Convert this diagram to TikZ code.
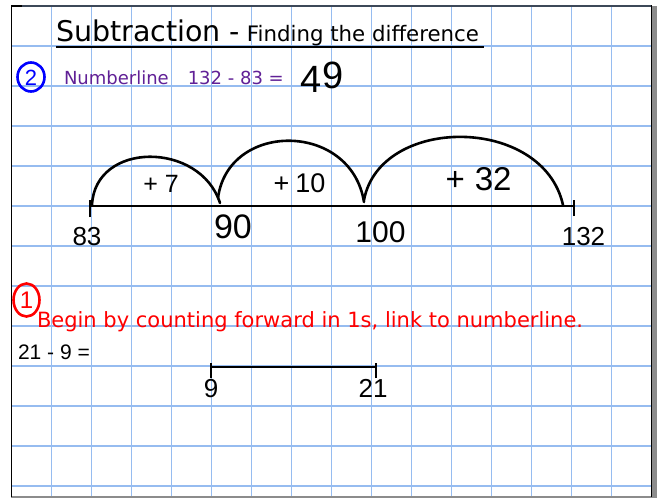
\documentclass[tikz,border=0pt]{standalone}
\usepackage{fontspec}
\setmainfont{Liberation Sans}
\newfontfamily\dejavu{DejaVu Sans}
\definecolor{gridblue}{RGB}{150,188,240}
\definecolor{notepurple}{RGB}{96,32,150}
\definecolor{frameslate}{RGB}{60,72,88}
\definecolor{shadowgray}{RGB}{140,140,140}
\begin{document}
\begin{tikzpicture}[x=1pt,y=-1pt,
  gridv/.style={draw=gridblue,line width=1.7pt},
  gridh/.style={draw=gridblue,line width=2pt},
  txt/.style={inner sep=0pt,outer sep=0pt},
  hand/.style={txt,anchor=base,font=\fontsize{#1}{#1}\selectfont},
  nline/.style={line width=2.2pt,black},
  jump/.style={line width=2.6pt,black,line cap=round},
  ring/.style={line width=2.6pt}]
\useasboundingbox[fill=white] (0,0) rectangle (661,498);
% grid
\foreach \k in {0,...,14} {\draw[gridv] (51.5+40*\k,5.5) -- (51.5+40*\k,497);}
\foreach \k in {0,...,11} {\draw[gridh] (11.5,45.5+40*\k) -- (651.5,45.5+40*\k);}
% frame
\fill[shadowgray] (652,6) rectangle (657,498);
\draw[shadowgray,line width=1.5pt] (11,497) -- (651.5,497);
\draw[frameslate,line width=2pt] (11,5.5) -- (651.5,5.5);
\draw[black,line width=2pt] (11,5.5) -- (22,5.5);
\draw[black,line width=1.5pt] (11.5,5) -- (11.5,497);
\draw[black,line width=1.2pt] (651.5,5) -- (651.5,497);
% title
\node[txt,anchor=base west] (title) at (56,41.5) {\dejavu\fontsize{28.5}{30}\selectfont Subtraction -\fontsize{21.3}{22}\selectfont{} Finding the difference};
\coordinate (ulA) at (56,46.5);
\coordinate (ulB) at (484,46.5);
\draw[black,line width=2pt] (ulA) -- (ulB);
% part 2
\coordinate (c2) at (31,77);
\draw[blue,ring] (c2) ellipse [x radius=13.5pt,y radius=14.5pt];
\node[hand=22,text=blue] (two) at (31,85) {2};
\node[txt,anchor=base west,text=notepurple] (prob) at (64,84) {\dejavu\fontsize{18}{19}\selectfont Numberline\hspace{19pt}132 - 83 =};
\node[hand=38] (ans) at (322,92) {4\raisebox{4pt}{9}};
% number line 1
\coordinate (n83) at (90,206);
\coordinate (n132) at (574,206);
\draw[nline] (n83) -- (n132);
\draw[nline] ([yshift=-11pt]n83) -- ([yshift=6pt]n83);
\draw[nline] ([yshift=-10pt]n132) -- ([yshift=6pt]n132);
\coordinate (j1s) at (92,205);
\coordinate (j1e) at (220,203);
\coordinate (j2s) at (218,198);
\coordinate (j2e) at (364,202);
\coordinate (j3s) at (364,200);
\coordinate (j3e) at (563,205);
\draw[jump] (j1s) .. controls (95,141) and (200,141) .. (j1e);
\draw[jump] (j2s) .. controls (228,121) and (351,121) .. (j2e);
\draw[jump] (j3s) .. controls (380,115) and (543,115) .. (j3e);
\node[hand=25] (p7) at (161,192) {+\hspace{7pt}7};
\node[hand=27] (p10) at (299.5,192) {+\hspace{6pt}10};
\node[hand=33] (p32) at (478.5,190) {+\hspace{10pt}32};
\node[hand=26] (l83) at (87,245) {83};
\node[hand=26] (l132) at (583.5,245) {132};
\node[hand=34] (l90) at (233,238) {90};
\node[hand=30] (l100) at (380.5,242) {100};
% part 1
\coordinate (c1) at (26.5,300);
\draw[red,ring] (c1) ellipse [x radius=13pt,y radius=16.5pt];
\node[hand=24,text=red] (one) at (26.5,308) {1};
\node[txt,anchor=base west,text=red] (instr) at (37,327) {\dejavu\fontsize{21}{22}\selectfont Begin by counting forward in 1s, link to numberline.};
\node[txt,anchor=base west] (q) at (18,359) {\fontsize{21}{22}\selectfont 21 - 9 =};
\coordinate (m9) at (211,367);
\coordinate (m21) at (376,367);
\draw[line width=2.6pt] (m9) -- (m21);
\draw[nline] ([yshift=-11pt]m9) -- ([yshift=4pt]m9);
\draw[nline] ([yshift=-11pt]m21) -- ([yshift=4pt]m21);
\node[hand=26] (l9) at (211,397) {9};
\node[hand=26] (l21) at (373,397) {21};
\end{tikzpicture}
\end{document}
